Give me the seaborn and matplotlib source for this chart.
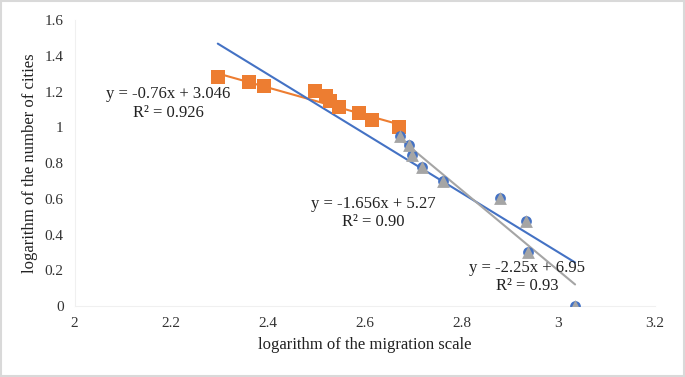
import numpy as np
import pandas as pd
import seaborn as sns
import matplotlib.pyplot as plt
from matplotlib.patches import Rectangle

# orange series (upper segment)
x_upper = [2.296, 2.360, 2.391, 2.497, 2.520, 2.528, 2.547, 2.588, 2.615, 2.671]
y_upper = [1.279, 1.255, 1.230, 1.204, 1.176, 1.146, 1.114, 1.079, 1.041, 1.000]

# lower segment (blue circles under gray triangles)
x_lower = [2.673, 2.692, 2.698, 2.718, 2.762, 2.880, 2.934, 2.938, 3.035]
y_lower = [0.954, 0.903, 0.845, 0.778, 0.699, 0.602, 0.477, 0.301, 0.000]

# trend lines: (slope, intercept)
fit_upper = (-0.76, 3.046)
fit_all = (-1.656, 5.27)
fit_lower = (-2.25, 6.95)

xticks = [2, 2.2, 2.4, 2.6, 2.8, 3, 3.2]
yticks = [0, 0.2, 0.4, 0.6, 0.8, 1, 1.2, 1.4, 1.6]

orange = '#ED7D31'
blue = '#4472C4'
gray = '#A5A5A5'

sns.set_style('white')
plt.rcParams['font.family'] = ['Liberation Serif', 'DejaVu Serif']

fig = plt.figure(figsize=(6.85, 3.77), dpi=100)
ax = fig.add_axes([0.109, 0.188, 0.847, 0.759])

df_up = pd.DataFrame({'x': x_upper, 'y': y_upper})
df_lo = pd.DataFrame({'x': x_lower, 'y': y_lower})

# trend lines
xa = np.array([min(x_upper), max(x_upper)])
ax.plot(xa, fit_upper[0] * xa + fit_upper[1], color=orange, lw=1.5, zorder=2)
xb = np.array([min(x_upper), max(x_lower)])
ax.plot(xb, fit_all[0] * xb + fit_all[1], color=blue, lw=1.5, zorder=2)
xc = np.array([min(x_lower), max(x_lower)])
ax.plot(xc, fit_lower[0] * xc + fit_lower[1], color=gray, lw=1.5, zorder=2)

sns.scatterplot(data=df_up, x='x', y='y', marker='s', s=95, color=orange,
                edgecolor=orange, linewidth=0, ax=ax, zorder=3)
sns.scatterplot(data=df_lo, x='x', y='y', marker='o', s=60, color=blue,
                edgecolor=blue, linewidth=0, ax=ax, zorder=3)
sns.scatterplot(data=df_lo, x='x', y='y', marker='^', s=85, color=gray,
                edgecolor=gray, linewidth=0, ax=ax, zorder=4)

ax.set_xlim(2, 3.2)
ax.set_ylim(0, 1.6)
ax.set_xticks(xticks)
ax.set_xticklabels(['2', '2.2', '2.4', '2.6', '2.8', '3', '3.2'])
ax.set_yticks(yticks)
ax.set_yticklabels(['0', '0.2', '0.4', '0.6', '0.8', '1', '1.2', '1.4', '1.6'])
ax.tick_params(labelsize=11, colors='#f0f0f0', labelcolor='#333333',
               length=4, width=0.6, direction='out', pad=4)
for s in ['top', 'right']:
    ax.spines[s].set_visible(False)
for s in ['left', 'bottom']:
    ax.spines[s].set_color('#f0f0f0')
    ax.spines[s].set_linewidth(0.8)

ax.set_xlabel('logarithm of the migration scale', fontsize=12, color='#222222', labelpad=5)
ax.set_ylabel('logarithm of the number of cities', fontsize=12, color='#222222', labelpad=5)

tkw = dict(fontsize=12, color='#222222', ha='center', va='center', zorder=5)
ax.text(2.193, 1.185, 'y = -0.76x + 3.046', **tkw)
ax.text(2.193, 1.08, 'R² = 0.926', **tkw)
ax.text(2.617, 0.573, 'y = -1.656x + 5.27', **tkw)
ax.text(2.617, 0.468, 'R² = 0.90', **tkw)
ax.text(2.936, 0.212, 'y = -2.25x + 6.95', **tkw)
ax.text(2.936, 0.115, 'R² = 0.93', **tkw)

fig.patches.append(Rectangle((0.001, 0.002), 0.997, 0.995, transform=fig.transFigure,
                             fill=False, edgecolor='#d9d9d9', lw=1.5))

fig.savefig('out.png', dpi=100)
